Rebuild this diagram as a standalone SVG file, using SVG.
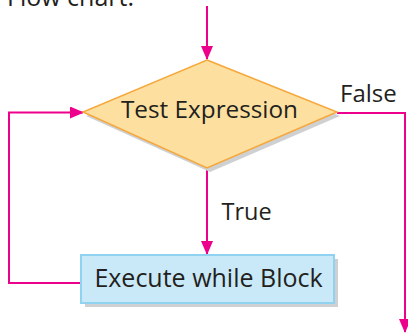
<svg xmlns="http://www.w3.org/2000/svg" width="408" height="333" viewBox="0 0 408 333">
  <style>
    .lbl { font-family: "Open Sans", "Noto Sans", "DejaVu Sans", sans-serif; fill: #231f20; }
    .conn { fill: none; stroke: #ec008c; stroke-width: 2; }
    .shadow { fill: #cfd0d2; }
  </style>
  <defs>
    <marker id="arrow" viewBox="0 0 14 12" refX="13" refY="6" markerWidth="14" markerHeight="12" markerUnits="userSpaceOnUse" orient="auto">
      <path d="M0,0 L14,6 L0,12 Z" fill="#ec008c"/>
    </marker>
  </defs>

  <rect width="408" height="333" fill="#ffffff"/>

  <!-- heading, partly above the top edge -->
  <text class="lbl" x="7" y="6" font-size="25">Flow chart:</text>

  <g id="connectors">
    <!-- entry -->
    <path class="conn" d="M207,6 V59" marker-end="url(#arrow)"/>
    <!-- true branch -->
    <path class="conn" d="M207,168 V254" marker-end="url(#arrow)"/>
    <!-- loop back -->
    <path class="conn" d="M81,283 H9 V112.5 H83" marker-end="url(#arrow)"/>
    <!-- false branch -->
    <path class="conn" d="M337,113 H405 V332" marker-end="url(#arrow)"/>
  </g>

  <g id="test-expression">
    <polygon class="shadow" points="210,64 340,116 210,172 86,116"/>
    <polygon points="207,60 337,112 207,168 83,112" fill="#fddf9f" stroke="#f6a73c" stroke-width="1.5"/>
    <text class="lbl" x="209.5" y="118" font-size="24.3" text-anchor="middle">Test Expression</text>
  </g>

  <g id="execute-block">
    <rect class="shadow" x="85" y="259" width="253" height="48"/>
    <rect x="81" y="255" width="253" height="48" fill="#c9e9f8" stroke="#8fd3f1" stroke-width="2"/>
    <text class="lbl" x="208.5" y="286.5" font-size="25" text-anchor="middle">Execute while Block</text>
  </g>

  <g id="edge-labels">
    <text class="lbl" x="340" y="102" font-size="24">False</text>
    <text class="lbl" x="221.5" y="219.5" font-size="23.5">True</text>
  </g>
</svg>
